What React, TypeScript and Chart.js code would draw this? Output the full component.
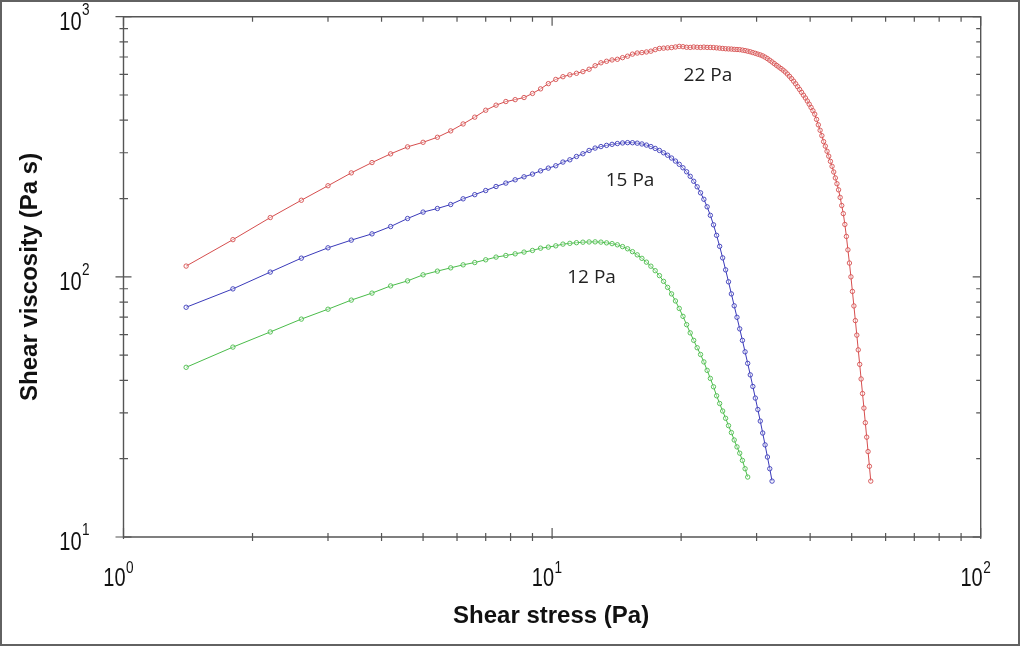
import React, { useEffect, useRef } from "react";
import { Chart, registerables } from "chart.js";

Chart.register(...registerables);

// Shear stress steps (Pa), shared by all three sweeps
const stress = [
  1.4, 1.8, 2.2, 2.6, 3.0, 3.4, 3.8, 4.2, 4.6, 5.0, 5.4, 5.8, 6.2, 6.6, 7.0, 7.4, 7.8, 8.2, 8.6, 9.0,
  9.4, 9.8, 10.2, 10.6, 11.0, 11.4, 11.8, 12.2, 12.6, 13.0, 13.4, 13.8, 14.2, 14.6, 15.0, 15.4, 15.8,
  16.2, 16.6, 17.0, 17.4, 17.8, 18.2, 18.6, 19.0, 19.4, 19.8, 20.2, 20.6, 21.0, 21.4, 21.8, 22.2, 22.6,
  23.0, 23.4, 23.8, 24.2, 24.6, 25.0, 25.4, 25.8, 26.2, 26.6, 27.0, 27.4, 27.8, 28.2, 28.6, 29.0, 29.4,
  29.8, 30.2, 30.6, 31.0, 31.4, 31.8, 32.2, 32.6, 33.0, 33.4, 33.8, 34.2, 34.6, 35.0, 35.4, 35.8, 36.2,
  36.6, 37.0, 37.4, 37.8, 38.2, 38.6, 39.0, 39.4, 39.8, 40.2, 40.6, 41.0, 41.4, 41.8, 42.2, 42.6, 43.0,
  43.4, 43.8, 44.2, 44.6, 45.0, 45.4, 45.8, 46.2, 46.6, 47.0, 47.4, 47.8, 48.2, 48.6, 49.0, 49.4, 49.8,
  50.2, 50.6, 51.0, 51.4, 51.8, 52.2, 52.6, 53.0, 53.4, 53.8, 54.2, 54.6, 55.0, 55.4,
];

// Shear viscosity (Pa s) — 22 Pa sample
const viscosity22 = [
  110, 139, 169, 197, 224, 251, 275, 297, 316, 329, 344, 364, 387, 411, 437, 457, 472, 480, 489, 507,
  528, 553, 574, 588, 598, 606,
  615, 628, 648, 665, 674, 682, 686, 696, 705, 718, 725, 728, 732, 737, 747, 755, 757, 759, 761, 765,
  769, 767, 763, 762, 765, 763, 762, 764, 762, 762, 761, 759, 757, 755, 753, 752, 751, 749, 748, 747,
  744, 741, 737, 733,
  728, 723, 718, 713, 707, 699, 690, 680, 670, 660, 650, 641, 632, 623, 613, 602, 590, 578, 565, 552,
  538, 525, 512, 499, 487, 474, 461, 448, 435, 422, 403, 384, 366, 349, 331, 318, 304, 291, 278, 266,
  253, 240, 228, 216, 202, 188, 175, 159, 143, 127, 113, 100, 87.9, 77.3, 67.9, 59.7, 52.4, 46.1, 40.5,
  35.6, 31.3, 27.5, 24.2, 21.3, 18.7, 16.4,
];

// Shear viscosity (Pa s) — 15 Pa sample
const viscosity15 = [
  76.4, 89.9, 104.3, 118, 129.3, 138.4, 146.3, 156.1, 167.6, 177.4, 183.1, 189.7, 199.5, 207, 214.7,
  222.5, 229.3, 236.1, 242.4, 248.3, 255.6, 261.8, 267.3, 276.2, 281.8, 290.2, 297.3, 306.1, 312.6,
  316.8, 320.2, 323.1, 325.4, 327.1, 328.0, 327.8, 326.5, 324.2, 321.0, 316.8, 311.7, 306.1, 299.9,
  293.4, 286.2, 278.6, 270.8, 262.6, 253.4, 243.5, 233, 221.9, 210.4, 198.7, 185.9, 172.4, 158.5, 144.4,
  131.0, 118.3, 106.4, 95.7, 86.0, 77.4, 69.9, 63.1, 57.0, 51.5, 46.5, 42.0, 37.9, 34.2, 30.9, 27.9,
  25.1, 22.6, 20.3, 18.3, 16.4,
];

// Shear viscosity (Pa s) — 12 Pa sample
const viscosity12 = [
  44.9, 53.7, 61.4, 68.8, 75.1, 81.4, 86.6, 92.3, 96.5, 101.8, 105.2, 108.3, 111.2, 113.5, 116.3, 119.1,
  120.8, 122.6, 124.5, 126.3, 128.9, 130.1, 131.6, 133.6, 134.5, 135.3, 135.9, 136.2, 136.3,
  136.0, 135.1, 134.2, 132.8, 130.7, 128.2, 125.0, 121.5, 117.8, 113.9, 109.9, 105.6, 101.1, 96.1, 91.1,
  86.0, 80.8, 75.6, 70.5, 65.5, 60.9, 57.0, 53.4, 50.3, 47.1, 43.7, 40.7, 37.8, 34.9, 32.6, 30.5, 28.6,
  26.8, 25.2, 23.6, 22.2, 21.0, 19.7, 18.3, 17.0,
];

// Curve annotations (text, and anchor in data coordinates)
const seriesNames = ["22 Pa", "15 Pa", "12 Pa"];
const nameStress = [23.1, 15.2, 12.36];
const nameViscosity = [594, 235, 99.3];

// Decade tick labels
const xDecades = [1, 10, 100];
const xExponents = ["0", "1", "2"];
const yDecades = [10, 100, 1000];
const yExponents = ["1", "2", "3"];

const xTitle = "Shear stress (Pa)";
const yTitle = "Shear viscosity (Pa s)";

const colors = {
  red: "rgb(214, 78, 78)",
  blue: "rgb(58, 58, 186)",
  green: "rgb(74, 188, 74)",
  axis: "#555555",
  text: "#111111",
};

const toPoints = (vals: number[]) => vals.map((y, i) => ({ x: stress[i], y }));

function minorTicks(min: number, max: number): { v: number; major: boolean }[] {
  const out: { v: number; major: boolean }[] = [];
  for (let d = min; d < max; d *= 10) {
    for (let k = 1; k < 10; k++) out.push({ v: d * k, major: k === 1 });
  }
  out.push({ v: max, major: true });
  return out;
}

const decorPlugin = {
  id: "decor",
  beforeDraw(chart: any) {
    const ctx = chart.ctx as CanvasRenderingContext2D;
    ctx.save();
    ctx.fillStyle = "#ffffff";
    ctx.fillRect(0, 0, chart.width, chart.height);
    ctx.strokeStyle = "#626262";
    ctx.lineWidth = 2;
    ctx.strokeRect(1, 1, chart.width - 6, chart.height - 3);
    ctx.restore();
  },
  beforeDatasetsDraw(chart: any) {
    const ctx = chart.ctx as CanvasRenderingContext2D;
    const { left, right, top, bottom } = chart.chartArea;
    const xs = chart.scales.x;
    const ys = chart.scales.y;
    ctx.save();
    ctx.strokeStyle = colors.axis;
    ctx.lineWidth = 1.4;
    ctx.beginPath();
    ctx.rect(left, top, right - left, bottom - top);
    ctx.stroke();
    ctx.lineWidth = 1.2;
    ctx.beginPath();
    for (const t of minorTicks(1, 100)) {
      const px = xs.getPixelForValue(t.v);
      // bottom
      if (t.major) {
        ctx.moveTo(px, bottom + 2);
        ctx.lineTo(px, bottom - 9);
      } else {
        ctx.moveTo(px, bottom + 4);
        ctx.lineTo(px, bottom - 4);
      }
      // top (inward)
      ctx.moveTo(px, top);
      ctx.lineTo(px, top + (t.major ? 9 : 5));
    }
    for (const t of minorTicks(10, 1000)) {
      const py = ys.getPixelForValue(t.v);
      if (t.major) {
        ctx.moveTo(left - 8, py);
        ctx.lineTo(left + 8, py);
      } else {
        ctx.moveTo(left - 4, py);
        ctx.lineTo(left + 4.5, py);
      }
      ctx.moveTo(right, py);
      ctx.lineTo(right - (t.major ? 8 : 4.5), py);
    }
    ctx.stroke();
    ctx.restore();
  },
  afterDatasetsDraw(chart: any) {
    const ctx = chart.ctx as CanvasRenderingContext2D;
    const { left, right, top, bottom } = chart.chartArea;
    const xs = chart.scales.x;
    const ys = chart.scales.y;
    const family = '"Liberation Sans", Arial, sans-serif';
    const sx = 0.8;
    ctx.save();
    ctx.fillStyle = colors.text;
    ctx.textBaseline = "alphabetic";

    const drawPow = (xRight: number, baseBig: number, baseSup: number, exp: string) => {
      ctx.save();
      ctx.translate(xRight, baseBig);
      ctx.scale(sx, 1);
      ctx.font = `25px ${family}`;
      ctx.textAlign = "right";
      ctx.fillText("10", 0, 0);
      ctx.restore();
      ctx.save();
      ctx.translate(xRight + 0.5, baseSup);
      ctx.scale(sx, 1);
      ctx.font = `17px ${family}`;
      ctx.textAlign = "left";
      ctx.fillText(exp, 0, 0);
      ctx.restore();
    };

    xDecades.forEach((v, i) => {
      const px = xs.getPixelForValue(v);
      drawPow(px + 2, bottom + 49, bottom + 36, xExponents[i]);
    });
    yDecades.forEach((v, i) => {
      const py = ys.getPixelForValue(v);
      drawPow(left - 42, py + 13, py - 2, yExponents[i]);
    });

    // axis titles
    ctx.font = `bold 24px ${family}`;
    ctx.textAlign = "center";
    ctx.textBaseline = "middle";
    ctx.fillText(xTitle, (left + right) / 2 - 1, bottom + 79);
    ctx.save();
    ctx.translate(left - 93, (top + bottom) / 2);
    ctx.rotate(-Math.PI / 2);
    ctx.fillText(yTitle, 0, 0);
    ctx.restore();

    // curve annotations
    ctx.font = `19px "Open Sans", "DejaVu Sans", sans-serif`;
    ctx.fillStyle = "#222222";
    seriesNames.forEach((name, i) => {
      ctx.fillText(name, xs.getPixelForValue(nameStress[i]), ys.getPixelForValue(nameViscosity[i]));
    });
    ctx.restore();
  },
};

export default function App() {
  const canvasRef = useRef<HTMLCanvasElement | null>(null);

  useEffect(() => {
    if (!canvasRef.current) return;
    const mk = (data: number[], color: string) => ({
      data: toPoints(data),
      showLine: true,
      borderColor: color,
      borderWidth: 1,
      pointRadius: 2.2,
      pointBorderWidth: 0.9,
      pointBorderColor: color,
      pointBackgroundColor: "rgba(255,255,255,0.35)",
      pointStyle: "circle" as const,
      tension: 0,
    });
    const chart = new Chart(canvasRef.current, {
      type: "scatter",
      data: {
        datasets: [
          mk(viscosity12, colors.green),
          mk(viscosity15, colors.blue),
          mk(viscosity22, colors.red),
        ],
      },
      options: {
        animation: false,
        responsive: false,
        maintainAspectRatio: false,
        devicePixelRatio: 1,
        layout: { padding: { left: 123.5, right: 43.3, top: 16.7, bottom: 110 } },
        plugins: { legend: { display: false }, tooltip: { enabled: false } },
        scales: {
          x: { type: "logarithmic", min: 1, max: 100, display: false },
          y: { type: "logarithmic", min: 10, max: 1000, display: false },
        },
      },
      plugins: [decorPlugin],
    });
    return () => chart.destroy();
  }, []);

  return (
    <div style={{ position: "absolute", left: 0, top: 0, width: 1024, height: 647 }}>
      <canvas ref={canvasRef} width={1024} height={647} style={{ display: "block", width: 1024, height: 647 }} />
    </div>
  );
}
